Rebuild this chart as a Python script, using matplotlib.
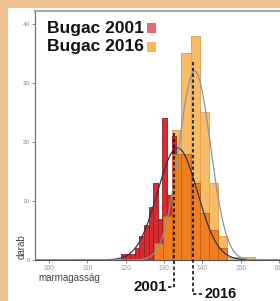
import numpy as np
import matplotlib
matplotlib.use("Agg")
import matplotlib.pyplot as plt

# ---- data ----
red_left = [118.8, 120.0, 121.2, 122.4, 123.6, 124.8, 126.0, 127.2, 128.4, 129.6, 130.8, 132.0]
red_count = [1, 1, 1, 2, 4, 6, 9, 13, 7, 24, 11, 21]
red_width = 1.2

light_left = [127.3, 129.7, 132.1, 134.5, 136.9, 139.3, 141.7, 144.1, 146.5, 148.9, 151.3]
light_count = [3, 7.5, 22, 35, 38, 25, 13, 4, 0.5, 0.5, 0.5]
light_width = 2.4

dark_left = [127.3, 129.7, 132.1, 134.5, 136.9, 139.3, 141.7, 144.1]
dark_count = [2.8, 7.5, 18, 18, 13, 8, 5, 2]
dark_width = 2.4

curve_2001 = dict(mean=133.5, sd=5.2, peak=19)
curve_2016 = dict(mean=138.0, sd=4.1, peak=32)

mark_2001 = 132.5
mark_2016 = 137.6

xticks = [100, 110, 120, 130, 140, 150, 160]
yticks = [0, 10, 20, 30, 40]

W, H = 280, 301
fig = plt.figure(figsize=(W / 100, H / 100), dpi=100)
fig.patch.set_facecolor("#f1c08f")
# white panel
fig.add_artist(plt.Rectangle((8 / W, 0), 1, 1 - 8 / H, transform=fig.transFigure,
                             facecolor="white", edgecolor="none", zorder=0))

ax_l, ax_b, ax_t = 35 / W, 1 - 260 / H, 1 - 11 / H
ax = fig.add_axes([ax_l, ax_b, 1 - ax_l, ax_t - ax_b])
ax.set_facecolor("none")
ax.set_xlim(96.4, 160.2)
ax.set_ylim(0, 42.2)

ax.bar(light_left, light_count, width=light_width, align="edge",
       color="#f8bc69", edgecolor="#dfa052", linewidth=0.6, zorder=1)
ax.bar(red_left, red_count, width=red_width, align="edge",
       color="#d92a30", edgecolor="#9e1d1d", linewidth=0.6, zorder=2)
ax.bar(dark_left, dark_count, width=dark_width, align="edge",
       color="#ef7f20", edgecolor="#c2620f", linewidth=0.6, zorder=3)

xs = np.linspace(96.4, 160.2, 400)
for c, col in ((curve_2001, "#2b3550"), (curve_2016, "#8a929c")):
    ys = c["peak"] * np.exp(-0.5 * ((xs - c["mean"]) / c["sd"]) ** 2)
    ax.plot(xs, ys, color=col, lw=0.9, zorder=4)

# dashed markers
dash = (0, (2.2, 1.6))
y01, y16 = -4.5, -5.7
ax.plot([mark_2001, mark_2001], [21.6, y01], color="black", lw=1.1, ls=dash,
        clip_on=False, zorder=5)
ax.plot([mark_2001 - 1.5, mark_2001], [y01, y01], color="black", lw=1.1,
        ls=dash, clip_on=False, zorder=5)
ax.plot([mark_2016, mark_2016], [33.6, y16], color="black", lw=1.1, ls=dash,
        clip_on=False, zorder=5)
ax.plot([mark_2016, mark_2016 + 2.3], [y16, y16], color="black", lw=1.1,
        ls=dash, clip_on=False, zorder=5)
ax.text(mark_2001 - 1.6, y01, "2001", ha="right", va="center", fontsize=10.8,
        fontweight="bold", family="Liberation Sans", color="#111111")
ax.text(mark_2016 + 3.0, y16, "2016", ha="left", va="center", fontsize=10.4,
        fontweight="bold", family="Liberation Sans", color="#111111")

# spines
ax.spines["right"].set_visible(False)
ax.spines["top"].set_color("#a8a8a8")
ax.spines["top"].set_linewidth(1.6)
ax.spines["left"].set_color("#666666")
ax.spines["left"].set_linewidth(0.8)
ax.spines["bottom"].set_color("#555555")
ax.spines["bottom"].set_linewidth(0.8)

ax.set_xticks(xticks)
ax.set_yticks(yticks)
ax.set_xticklabels([str(t) for t in xticks], fontsize=4.8, color="#9a9a9a",
                   family="Liberation Sans")
ax.set_yticklabels([str(t) for t in yticks], fontsize=4.6, color="#888888",
                   family="Liberation Sans")
ax.tick_params(axis="both", length=2, width=0.6, color="#777777", pad=1.5)

fig.text(38 / W, 1 - 278 / H, "marmagasság", fontsize=7, color="#444444",
         family="Liberation Sans", va="center", ha="left")
fig.text(22 / W, 1 - 247 / H, "darab", fontsize=7, color="#444444", rotation=90,
         family="Liberation Sans", va="center", ha="center")

# legend
fig.text(47 / W, 1 - 28 / H, "Bugac 2001", fontsize=12.5, fontweight="bold",
         family="Liberation Sans", va="center", ha="left", color="#111111")
fig.text(47 / W, 1 - 47 / H, "Bugac 2016", fontsize=12.5, fontweight="bold",
         family="Liberation Sans", va="center", ha="left", color="#111111")
fig.add_artist(plt.Rectangle((147 / W, 1 - 33 / H), 9 / W, 10 / H, transform=fig.transFigure,
                             facecolor="#ec6670", edgecolor="none"))
fig.add_artist(plt.Rectangle((147 / W, 1 - 52 / H), 9 / W, 10 / H, transform=fig.transFigure,
                             facecolor="#f7b55c", edgecolor="none"))

fig.savefig("out.png", dpi=100, facecolor=fig.get_facecolor())
